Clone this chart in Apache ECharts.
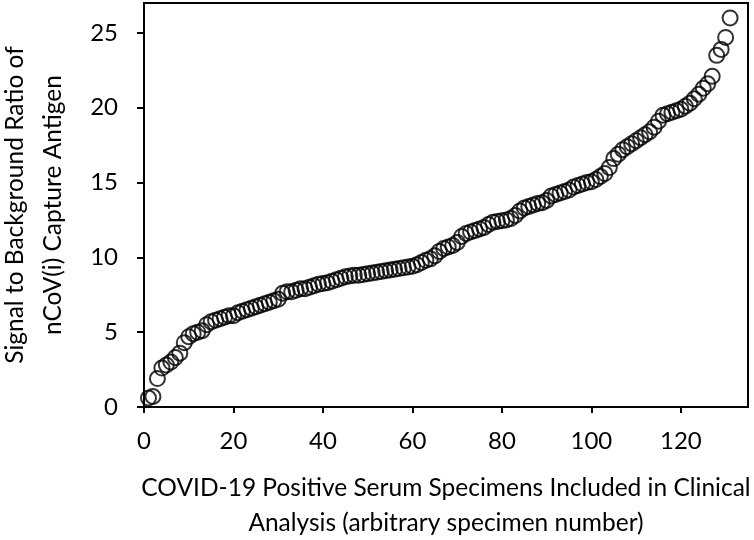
<!DOCTYPE html>
<html>
<head>
<meta charset="utf-8">
<script src="https://cdn.jsdelivr.net/npm/echarts@6/dist/echarts.min.js"></script>
<style>html,body{margin:0;padding:0;background:#fff}#c{width:754px;height:540px}</style>
</head>
<body>
<div id="c"></div>
<script>
const specimenValues = [
  0.6, 0.7, 1.9, 2.6, 2.8, 3.0, 3.3, 3.6, 4.3, 4.7,
  4.9, 5.0, 5.1, 5.5, 5.7, 5.8, 5.9, 6.0, 6.1, 6.1,
  6.3, 6.4, 6.5, 6.6, 6.7, 6.8, 6.9, 7.0, 7.1, 7.2,
  7.6, 7.7, 7.7, 7.8, 7.9, 7.9, 8.0, 8.1, 8.2, 8.25,
  8.3, 8.4, 8.5, 8.6, 8.7, 8.75, 8.8, 8.8, 8.85, 8.9,
  8.95, 9.0, 9.05, 9.1, 9.15, 9.2, 9.25, 9.3, 9.35, 9.4,
  9.5, 9.65, 9.8, 9.9, 10.1, 10.4, 10.6, 10.7, 10.8, 11.0,
  11.4, 11.6, 11.7, 11.8, 11.9, 12.0, 12.2, 12.35, 12.4, 12.45,
  12.5, 12.6, 12.8, 13.1, 13.3, 13.4, 13.5, 13.6, 13.65, 13.8,
  14.1, 14.2, 14.3, 14.4, 14.5, 14.7, 14.8, 14.9, 15.0, 15.05,
  15.2, 15.4, 15.6, 16.0, 16.6, 16.9, 17.2, 17.4, 17.6, 17.8,
  18.0, 18.2, 18.4, 18.7, 19.1, 19.5, 19.6, 19.7, 19.8, 19.9,
  20.1, 20.3, 20.6, 20.9, 21.3, 21.6, 22.1, 23.5, 23.9, 24.7,
  26.0
];
const specimenNumbers = specimenValues.map((v, i) => i + 1);
const xTicks = [0, 20, 40, 60, 80, 100, 120];
const yTicks = [0, 5, 10, 15, 20, 25];
const xTitle = 'COVID-19 Positive Serum Specimens Included in Clinical\nAnalysis (arbitrary specimen number)';
const yTitle = 'Signal to Background Ratio of\nnCoV(i) Capture Antigen';

const points = specimenNumbers.map((x, i) => [x, specimenValues[i]]);
const font = 'Lato, Carlito, Calibri, sans-serif';

const chart = echarts.init(document.getElementById('c'), null, {renderer: 'canvas'});
chart.setOption({
  animation: false,
  backgroundColor: '#fff',
  grid: {
    left: 144, right: 6, top: 3, bottom: 133,
    containLabel: false, outerBoundsMode: 'none',
    show: true, borderColor: '#000', borderWidth: 2, backgroundColor: 'transparent'
  },
  xAxis: {
    type: 'value', min: 0, max: 135,
    axisLine: {show: true, lineStyle: {color: '#000', width: 2}},
    axisTick: {show: true, length: 6, lineStyle: {color: '#000', width: 2}, customValues: xTicks},
    axisLabel: {customValues: xTicks, color: '#000', fontSize: 24, fontFamily: font, margin: 22},
    splitLine: {show: false},
    name: xTitle, nameLocation: 'middle', nameGap: 64,
    nameTextStyle: {color: '#000', fontSize: 24.5, fontFamily: font, lineHeight: 35}
  },
  yAxis: {
    type: 'value', min: 0, max: 27,
    axisLine: {show: true, lineStyle: {color: '#000', width: 2}},
    axisTick: {show: true, length: 7, lineStyle: {color: '#000', width: 2}, customValues: yTicks},
    axisLabel: {customValues: yTicks, color: '#000', fontSize: 24, fontFamily: font, margin: 26},
    splitLine: {show: false},
    name: yTitle, nameLocation: 'middle', nameGap: 72,
    nameTextStyle: {color: '#000', fontSize: 24.5, fontFamily: font, lineHeight: 38}
  },
  series: [{
    type: 'scatter',
    data: points,
    symbol: 'circle',
    symbolSize: 15,
    itemStyle: {color: 'rgba(0,0,0,0)', borderColor: '#000', borderWidth: 2}
  }]
});
</script>
</body>
</html>
